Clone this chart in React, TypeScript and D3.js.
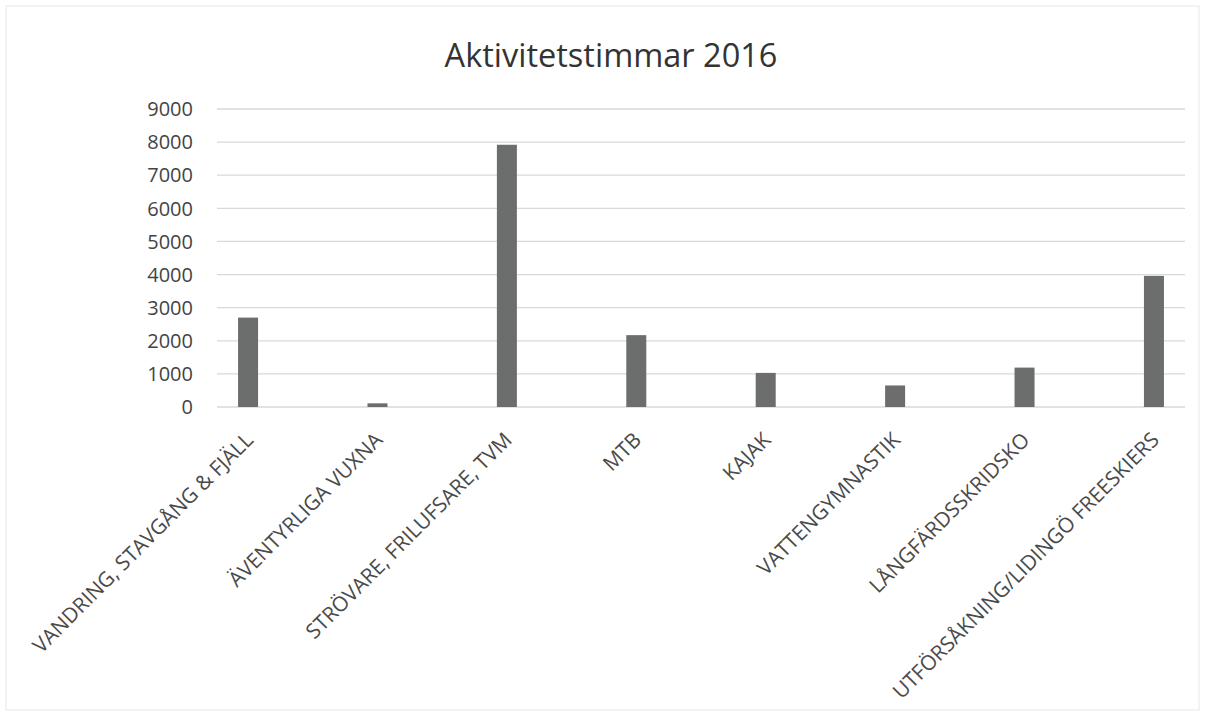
import * as d3 from "d3";
import React, { useEffect, useRef } from "react";

const categories = [
  "VANDRING, STAVGÅNG & FJÄLL",
  "ÄVENTYRLIGA VUXNA",
  "STRÖVARE, FRILUFSARE, TVM",
  "MTB",
  "KAJAK",
  "VATTENGYMNASTIK",
  "LÅNGFÄRDSSKRIDSKO",
  "UTFÖRSÅKNING/LIDINGÖ FREESKIERS",
];
const hours = [2700, 110, 7920, 2170, 1030, 650, 1190, 3960];
const yTicks = [0, 1000, 2000, 3000, 4000, 5000, 6000, 7000, 8000, 9000];
const title = "Aktivitetstimmar 2016";

const App = () => {
  const svgRef = useRef<SVGSVGElement>(null);
  const w = 1205;
  const h = 716;
  const left = 217;
  const right = 1185;
  const top = 109;
  const bottom = 407;

  useEffect(() => {
    document.body.style.margin = "0";
    const svg = d3.select(svgRef.current);
    svg.selectAll("*").remove();

    const x = d3.scalePoint<string>().domain(categories).range([left, right]).padding(0.24);
    const y = d3.scaleLinear().domain([0, 9000]).range([bottom, top]);
    const font = "'Open Sans', 'DejaVu Sans', sans-serif";

    // faint frame like the scanned page
    svg.append("rect")
      .attr("x", 6).attr("y", 6).attr("width", w - 12).attr("height", h - 12)
      .attr("fill", "none").attr("stroke", "#f0f0f0").attr("stroke-width", 1.5);

    svg.append("text")
      .attr("x", 611).attr("y", 67)
      .attr("text-anchor", "middle")
      .attr("font-family", font)
      .attr("font-size", 32.5)
      .attr("fill", "#333")
      .text(title);

    // gridlines
    svg.append("g")
      .selectAll("line")
      .data(yTicks)
      .enter()
      .append("line")
      .attr("x1", left).attr("x2", right)
      .attr("y1", (d) => y(d)).attr("y2", (d) => y(d))
      .attr("stroke", "#d9d9d9").attr("stroke-width", 1.3);

    // y labels
    svg.append("g")
      .selectAll("text")
      .data(yTicks)
      .enter()
      .append("text")
      .attr("x", 193)
      .attr("y", (d) => y(d))
      .attr("dy", "0.36em")
      .attr("text-anchor", "end")
      .attr("font-family", font)
      .attr("font-size", 20)
      .attr("fill", "#444")
      .text((d) => d);

    const bw = 20;
    svg.append("g")
      .selectAll("rect")
      .data(hours)
      .enter()
      .append("rect")
      .attr("x", (d, i) => (x(categories[i]) as number) - bw / 2)
      .attr("y", (d) => y(d))
      .attr("width", bw)
      .attr("height", (d) => y(0) - y(d))
      .attr("fill", "#6b6e6c");

    // rotated category labels
    svg.append("g")
      .selectAll("text")
      .data(categories)
      .enter()
      .append("text")
      .attr("transform", (d) => "translate(" + ((x(d) as number) - 4) + "," + (bottom + 24) + ") rotate(-45)")
      .attr("dy", "0.7em")
      .attr("text-anchor", "end")
      .attr("font-family", font)
      .attr("font-size", 20.8)
      .attr("fill", "#4a4a4a")
      .text((d) => d);
  }, []);

  return <svg ref={svgRef} width={w} height={h} style={{ display: "block" }} />;
};

export default App;
